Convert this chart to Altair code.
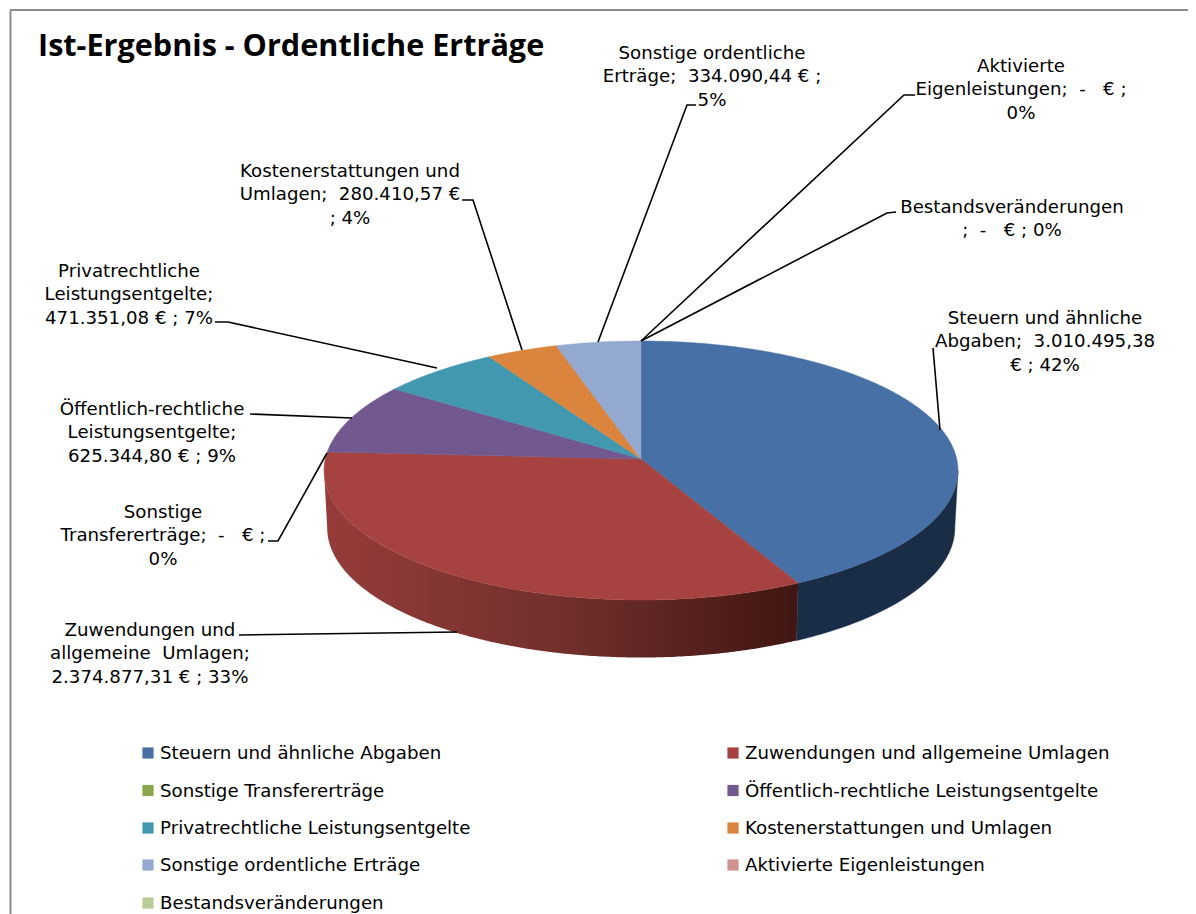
import math
import altair as alt
import pandas as pd

# ---- chart data -------------------------------------------------------
names = ["Steuern und ähnliche Abgaben", "Zuwendungen und allgemeine Umlagen",
         "Sonstige Transfererträge", "Öffentlich-rechtliche Leistungsentgelte",
         "Privatrechtliche Leistungsentgelte", "Kostenerstattungen und Umlagen",
         "Sonstige ordentliche Erträge", "Aktivierte Eigenleistungen",
         "Bestandsveränderungen"]
values = [3010495.38, 2374877.31, 0, 625344.80, 471351.08, 280410.57, 334090.44, 0, 0]
colors = ["#4670A6", "#A64341", "#89A54E", "#71588F", "#4198AF", "#DB843D",
          "#93A9CF", "#D19392", "#B9CD96"]
title_text = "Ist-Ergebnis - Ordentliche Erträge"

label_lines = [
    ["Steuern und ähnliche", "Abgaben; \u00a03.010.495,38", "€ ; 42%"],
    ["Zuwendungen und", "allgemeine \u00a0Umlagen;", "2.374.877,31 € ; 33%"],
    ["Sonstige", "Transfererträge; \u00a0- \u00a0 € ;", "0%"],
    ["Öffentlich-rechtliche", "Leistungsentgelte;", "625.344,80 € ; 9%"],
    ["Privatrechtliche", "Leistungsentgelte;", "471.351,08 € ; 7%"],
    ["Kostenerstattungen und", "Umlagen; \u00a0280.410,57 €", "; 4%"],
    ["Sonstige ordentliche", "Erträge; \u00a0334.090,44 € ;", "5%"],
    ["Aktivierte", "Eigenleistungen; \u00a0- \u00a0 € ;", "0%"],
    ["Bestandsveränderungen", "; \u00a0- \u00a0 € ; 0%"],
]

# ---- layout (page pixels) ---------------------------------------------
W, H = 1180, 906
label_x = [1045, 150, 163, 152, 129, 350, 712, 1021, 1012]
label_y = [319, 631, 513, 410, 272, 172, 54, 67, 208]
line_step = 23.3
leaders = [
    [(933, 348), (940, 430)],
    [(239, 635), (457, 632)],
    [(268, 541), (278, 541), (327, 453)],
    [(250, 414), (352, 418)],
    [(215, 322), (228, 322), (437, 368)],
    [(462, 200), (473, 200), (522, 350)],
    [(696, 105), (687, 105), (598, 342)],
    [(915, 95), (904, 95), (641, 341)],
    [(896, 212), (887, 213), (641, 341)],
]
legend_x = [148, 733]
legend_text_x = [160, 745]
legend_y = [754, 791.5, 829, 866, 904]
legend_square_y = [753, 790.5, 828, 865, 903]
CX, CY, RX, RY, K, DEPTH, TAPER = 641, 459, 315.7, 128.5, 0.0888, 57.5, 0.99
FRAME = "#8C8C8C"
FONT = "DejaVu Sans"
FS = 18.2


def project(deg):
    t = math.radians(deg)
    u, v = math.sin(t), -math.cos(t)
    w = 1 - K * v
    return CX + RX * u / w, CY + RY * v / w


def arc(a, b):
    n = max(2, int(abs(b - a) * 2))
    return [project(a + (b - a) * i / n) for i in range(n + 1)]


total = sum(values)
cum = [0]
for val in values:
    cum.append(cum[-1] + val / total * 360)

# top slices
rows = []
for name, a, b in zip(names, cum[:-1], cum[1:]):
    if b - a <= 0:
        continue
    pts = [(CX, CY)] + arc(a, b)
    for i, (x, y) in enumerate(pts):
        rows.append({"slice": name, "i": i, "x": x, "y": y})
top_df = pd.DataFrame(rows)


def wall(a, b):
    top = arc(a, b)
    bottom = [(CX + (x - CX) * TAPER, y + DEPTH) for x, y in reversed(top)]
    return pd.DataFrame([{"i": i, "x": x, "y": y} for i, (x, y) in enumerate(top + bottom)])


# the rim's outermost points lie where cos(t) = -K (right) and its mirror (left)
RIGHT_T = math.degrees(math.acos(-K))
LEFT_T = 360 - RIGHT_T

X = alt.X("x:Q", scale=alt.Scale(domain=[8, 8 + W]), axis=None)
Y = alt.Y("y:Q", scale=alt.Scale(domain=[8 + H, 8]), axis=None)
ORDER = alt.Order("i:Q")

blue_wall = alt.Chart(wall(RIGHT_T, cum[1])).mark_line(
    interpolate="linear-closed", fill="#1A2D47", stroke="#1A2D47", strokeWidth=0.5
).encode(x=X, y=Y, order=ORDER)

red_wall = alt.Chart(wall(cum[1], LEFT_T)).mark_line(
    interpolate="linear-closed",
    stroke=None,
    fill=alt.Gradient(
        gradient="linear", x1=1, x2=0, y1=0, y2=0,
        stops=[alt.GradientStop(offset=0, color="#411612"),
               alt.GradientStop(offset=0.5, color="#72302D"),
               alt.GradientStop(offset=1, color="#963C3A")],
    ),
).encode(x=X, y=Y, order=ORDER)

color_scale = alt.Scale(domain=names, range=colors)
slices = alt.Chart(top_df).mark_line(
    interpolate="linear-closed", strokeWidth=0.5
).encode(
    x=X, y=Y, order=ORDER,
    fill=alt.Fill("slice:N", scale=color_scale, legend=None),
    stroke=alt.Stroke("slice:N", scale=color_scale, legend=None),
)

lead_df = pd.DataFrame([
    {"k": k, "i": i, "x": x, "y": y}
    for k, line in enumerate(leaders) for i, (x, y) in enumerate(line)
])
lead = alt.Chart(lead_df).mark_line(color="#000000", strokeWidth=1.6).encode(
    x=X, y=Y, order=ORDER, detail="k:N"
)

lab_df = pd.DataFrame([
    {"t": t, "x": lx, "y": ly + j * line_step}
    for lines, lx, ly in zip(label_lines, label_x, label_y)
    for j, t in enumerate(lines)
])
labs = alt.Chart(lab_df).mark_text(
    font=FONT, fontSize=FS, align="center", baseline="middle", color="#000000"
).encode(x=X, y=Y, text="t:N")

title_df = pd.DataFrame([{"t": title_text, "x": 38, "y": 47}])
title = alt.Chart(title_df).mark_text(
    font="Open Sans", fontSize=30.6, fontWeight="bold", align="left", baseline="middle", color="#000000"
).encode(x=X, y=Y, text="t:N")

leg_df = pd.DataFrame([
    {"slice": n, "x": legend_x[idx % 2], "tx": legend_text_x[idx % 2],
     "y": legend_square_y[idx // 2], "ty": legend_y[idx // 2]}
    for idx, n in enumerate(names)
])
leg_sq = alt.Chart(leg_df).mark_square(size=125, opacity=1, filled=True).encode(
    x=X, y=Y, color=alt.Color("slice:N", scale=color_scale, legend=None)
)
leg_tx = alt.Chart(leg_df).mark_text(
    font=FONT, fontSize=FS, align="left", baseline="middle", color="#000000"
).encode(
    x=alt.X("tx:Q", scale=alt.Scale(domain=[8, 8 + W]), axis=None),
    y=alt.Y("ty:Q", scale=alt.Scale(domain=[8 + H, 8]), axis=None),
    text="slice:N",
)

frame_top = alt.Chart(pd.DataFrame([{"x": 10, "x2": 1188, "y": 10}])).mark_rule(
    color=FRAME, strokeWidth=2).encode(x=X, x2="x2:Q", y=Y)
frame_left = alt.Chart(pd.DataFrame([{"x": 10.5, "y": 10, "y2": 914}])).mark_rule(
    color=FRAME, strokeWidth=2).encode(x=X, y=Y, y2="y2:Q")

chart = alt.layer(
    frame_top, frame_left, blue_wall, red_wall, slices, lead, labs, title, leg_sq, leg_tx
).properties(
    width=W, height=H, padding=0, autosize=alt.AutoSizeParams(type="none"),
    view=alt.ViewConfig(stroke=None), background="white",
).resolve_scale(x="shared", y="shared")

chart.save("out.html", embed_options={"renderer": "svg", "actions": False})
